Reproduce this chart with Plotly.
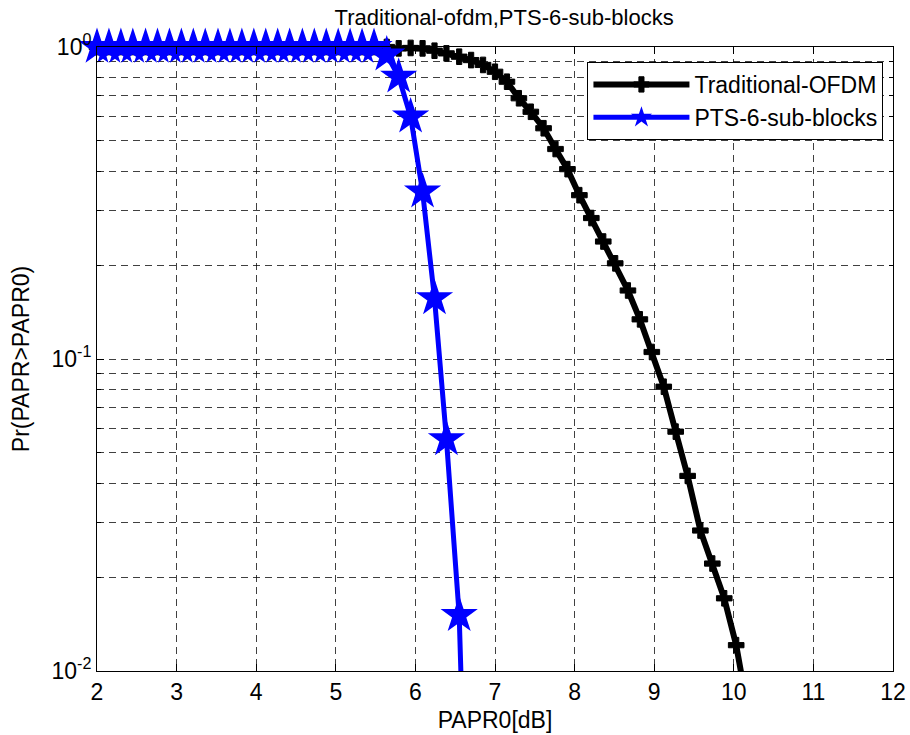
import plotly.graph_objects as go

papr0 = [2.00, 2.15, 2.30, 2.45, 2.61, 2.76, 2.91, 3.06, 3.21, 3.36, 3.52, 3.67, 3.82, 3.97,
         4.12, 4.27, 4.42, 4.58, 4.73, 4.88, 5.03, 5.18, 5.33, 5.48, 5.64, 5.79, 5.94, 6.09,
         6.24, 6.39, 6.55, 6.70, 6.85, 7.00, 7.15, 7.30, 7.45, 7.61, 7.76, 7.91, 8.06, 8.21,
         8.36, 8.51, 8.67, 8.82, 8.97, 9.12, 9.27, 9.42, 9.58, 9.73, 9.88, 10.03, 10.18]

ccdf_ofdm = [1.0] * 25 + [0.990, 0.993, 0.990, 0.973, 0.954, 0.931, 0.908, 0.876, 0.833,
                          0.774, 0.685, 0.620, 0.549, 0.471, 0.406, 0.335, 0.283, 0.238,
                          0.2026, 0.1658, 0.134, 0.1053, 0.0815, 0.0585, 0.0422, 0.0282,
                          0.0221, 0.0171, 0.0121, 0.0074]

ccdf_pts = [1.0] * 24 + [0.945, 0.803, 0.598, 0.344, 0.1565, 0.0553, 0.0151, 0.0008]

x_ticks = [2, 3, 4, 5, 6, 7, 8, 9, 10, 11, 12]
y_ticks = [0.01, 0.1, 1]
y_ticktext = ["10<sup>-2</sup>", "10<sup>-1</sup>", "10<sup>0</sup>"]
y_minor = [m * 10 ** e for e in (-2, -1) for m in range(2, 10)]

FONT = "Liberation Sans, Arial, sans-serif"
Y_MIN = 0.01


def marker_sizes(values, size):
    # hide markers that fall below the visible axis range (the line is still drawn & clipped)
    return [size if v >= Y_MIN else 0 for v in values]


fig = go.Figure()
fig.add_trace(go.Scatter(
    x=papr0, y=ccdf_ofdm, mode="lines+markers", name="Traditional-OFDM",
    legendgroup="a", cliponaxis=False,
    line=dict(color="black", width=6),
    marker=dict(symbol="cross", size=marker_sizes(ccdf_ofdm, 13), color="black",
                opacity=1, line=dict(color="black", width=1)),
))
fig.add_trace(go.Scatter(
    x=papr0[:len(ccdf_pts)], y=ccdf_pts, mode="lines+markers", name="PTS-6-sub-blocks",
    legendgroup="b", cliponaxis=False,
    line=dict(color="#0000ff", width=5),
    marker=dict(symbol="star", size=marker_sizes(ccdf_pts, 28), color="#0000ff",
                opacity=1, line=dict(color="#0000ff", width=0)),
))

GRID = "rgba(0,0,0,0.75)"
axis_common = dict(
    showline=True, linecolor="black", linewidth=1, mirror="ticks",
    ticks="inside", ticklen=7, tickcolor="black",
    showgrid=True, gridcolor=GRID, griddash="7px,5px", gridwidth=1,
    zeroline=False, automargin=False,
    tickfont=dict(family=FONT, size=23, color="black"),
)

fig.update_xaxes(
    range=[2, 12], tickvals=x_ticks, ticktext=[str(t) for t in x_ticks],
    title=dict(text="PAPR0[dB]", font=dict(family=FONT, size=23, color="black"), standoff=8),
    **axis_common,
)
fig.update_yaxes(
    type="log", range=[-2, 0], tickvals=y_ticks, ticktext=y_ticktext,
    title=dict(text="Pr(PAPR>PAPR0)", font=dict(family=FONT, size=23, color="black"), standoff=15),
    minor=dict(tickmode="array", tickvals=y_minor, ticks="inside", ticklen=4,
               tickcolor="black", showgrid=True, gridcolor=GRID,
               griddash="7px,5px", gridwidth=1),
    **axis_common,
)

fig.update_layout(
    width=910, height=735,
    margin=dict(l=97, r=17, t=47, b=64),
    paper_bgcolor="white", plot_bgcolor="white",
    title=dict(text="Traditional-ofdm,PTS-6-sub-blocks", x=0.554, xanchor="center",
               y=0.977, yanchor="middle",
               font=dict(family=FONT, size=22, color="black")),
    legend=dict(x=0.988, y=0.976, xanchor="right", yanchor="top",
                bgcolor="white", bordercolor="black", borderwidth=1,
                font=dict(family=FONT, size=23, color="black"),
                itemwidth=96, tracegroupgap=0),
    showlegend=True,
)

fig.write_html("out.html")
